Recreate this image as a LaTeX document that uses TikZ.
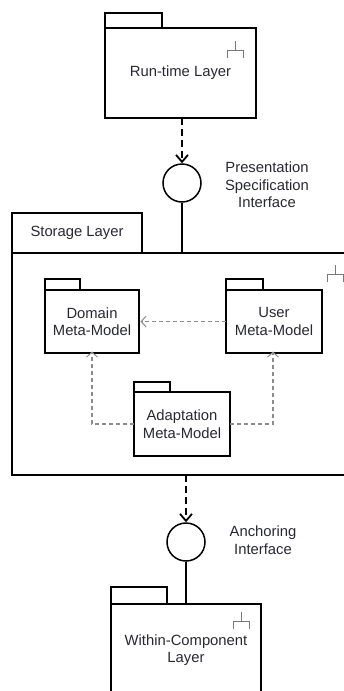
\documentclass[tikz,border=0pt]{standalone}
\usepackage{fontspec}
\setmainfont{Liberation Sans}
\usetikzlibrary{arrows.meta}
\definecolor{txt}{RGB}{40,40,52}
\definecolor{dep}{RGB}{140,140,140}
\definecolor{icon}{RGB}{120,120,120}
\newcommand\pkgfork[2]{% x, top y
  \draw[icon,line width=1pt] (#1,#2) -- (#1,#2+9) (#1-8,#2+17) -- (#1-8,#2+9) -- (#1+8,#2+9) -- (#1+8,#2+17);}
\begin{document}
\begin{tikzpicture}[x=1pt,y=-1pt,
  pkg/.style n args={2}{draw=black,line width=2.4pt,minimum width=#1pt,minimum height=#2pt,
     inner sep=0pt,outer sep=0pt,align=center,font=\fontsize{14.8}{17.5}\selectfont,text=txt},
  tabbox/.style n args={2}{draw=black,line width=2.4pt,minimum width=#1pt,minimum height=#2pt,
     inner sep=0pt,outer sep=0pt,anchor=south west,font=\fontsize{14.8}{17.5}\selectfont,text=txt},
  iface/.style={draw=black,line width=1.5pt,circle,minimum size=38pt,inner sep=0pt},
  reqarrow/.style={draw=black,line width=2.3pt,dash pattern=on 7pt off 4pt,
     -{Straight Barb[length=7pt,width=12pt,line width=1.8pt]}},
  depend/.style={draw=dep,line width=1.2pt,dash pattern=on 4pt off 3pt,
     -{Straight Barb[length=5pt,width=11pt,line width=1pt]}},
  lbl/.style={align=center,font=\fontsize{14.8}{17.5}\selectfont,text=txt,inner sep=0pt}]
\useasboundingbox (0,0) rectangle (344,691);
\clip (0,0) rectangle (344,691);

% Run-time layer
\node[pkg={151}{90}] (rt) at (180.5,73) {Run-time Layer};
\node[tabbox={57}{15}] (rttab) at (rt.north west) {};
\pkgfork{235}{41}

% Presentation Specification Interface
\node[iface] (pi) at (182,183) {};
\node[lbl] (pilbl) at (267,185) {Presentation\\Specification\\Interface};

% Storage layer
\node[pkg={340}{222}] (sto) at (182,364) {};
\node[tabbox={130}{40}] (stotab) at (sto.north west) {Storage Layer};
\pkgfork{335}{265}

\draw[reqarrow] (pi |- rt.south) -- (pi.north);
\draw[line width=1.5pt] (pi.south) -- (pi |- sto.north);

% inner packages
\node[pkg={94}{63}] (dm) at (92,321.5) {Domain\\Meta-Model};
\node[tabbox={35}{11}] (dmtab) at (dm.north west) {};
\node[pkg={96}{63}] (um) at (274,321.5) {User\\Meta-Model};
\node[tabbox={37}{11}] (umtab) at (um.north west) {};
\node[pkg={96}{64}] (ad) at (182,424) {Adaptation\\Meta-Model};
\node[tabbox={36}{10}] (adtab) at (ad.north west) {};

\draw[depend] (um.west) -- ([xshift=1.5pt]dm.east);
\draw[depend] (ad.west) -| ([yshift=1.5pt]dm.south);
\draw[depend] (ad.east) -| ([xshift=-1pt,yshift=1.5pt]um.south);

% Anchoring interface
\node[iface] (ai) at (186,542) {};
\node[lbl] (ailbl) at (263,540) {Anchoring\\Interface};

% Within-component layer
\node[pkg={150}{92}] (wc) at (186,650) {Within-Component\\Layer};
\node[tabbox={56}{17}] (wctab) at (wc.north west) {};
\pkgfork{241}{612}

\draw[reqarrow] (ai |- sto.south) -- (ai.north);
\draw[line width=1.5pt] (ai.south) -- (ai |- wc.north);
\end{tikzpicture}
\end{document}
